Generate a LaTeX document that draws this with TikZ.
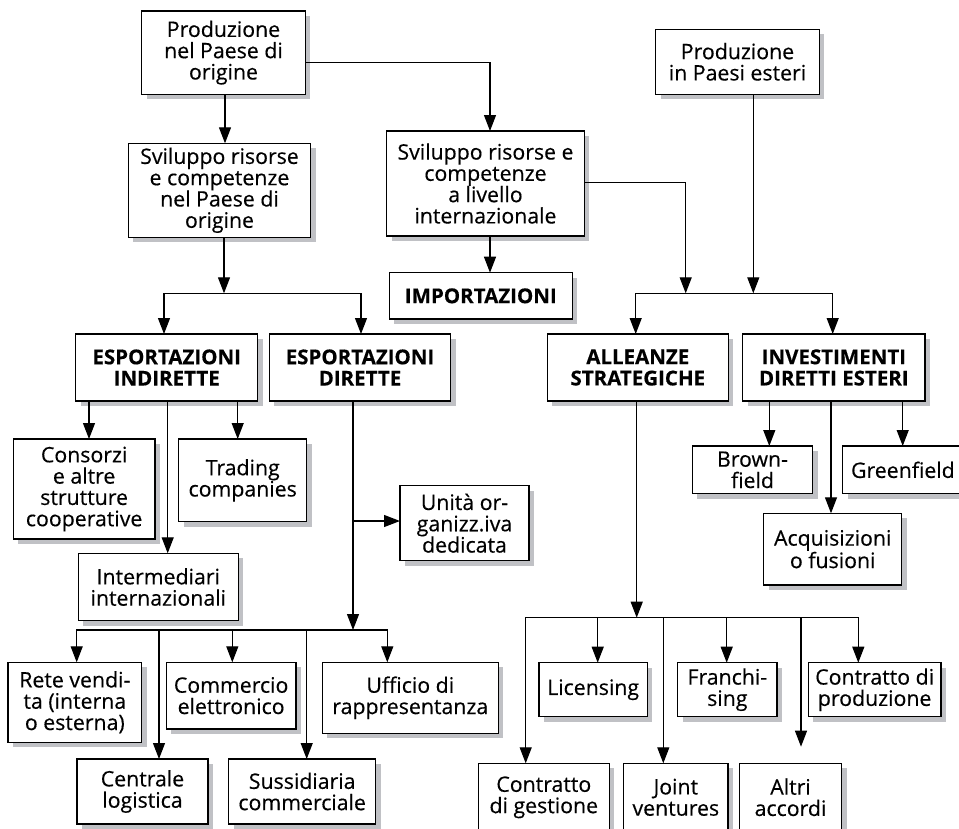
\documentclass[tikz,border=0pt]{standalone}
\usepackage{fontspec}
\setmainfont{Open Sans}[FakeBold=0.35]
\usetikzlibrary{arrows.meta,backgrounds}
\definecolor{shadowgray}{RGB}{192,193,197}
\newcommand\bxfont{\fontsize{21.3}{21.3}\selectfont}
\newcommand\bbfont{\fontsize{20.5}{21.3}\selectfont\bfseries}
\tikzset{
  box/.style={draw=black, line width=1.3pt, fill=white, inner sep=0pt, outer sep=0pt,
    align=center, anchor=north west, font=\bxfont},
  bbox/.style={box, font=\bbfont},
  arr/.style={line width=1.2pt, -{Triangle[length=16pt,width=12pt]}},
  arrtwo/.style={line width=1.2pt, {Triangle[length=16pt,width=12pt]}-{Triangle[length=16pt,width=12pt]}},
  shadowbox/.style={fill=shadowgray},
}
\begin{document}
\begin{tikzpicture}[x=1pt,y=-1pt]
\useasboundingbox (0,0) rectangle (959,828);

% boxes
\node[box, minimum width=163.6pt, minimum height=83.3pt] (p1) at (141.7,11) {Produzione\\nel Paese di\\origine};
\node[box, minimum width=182.4pt, minimum height=94pt] (s1) at (128.3,143.3) {Sviluppo risorse\\e competenze\\nel Paese di\\origine};
\node[box, minimum width=163.6pt, minimum height=65pt] (pe) at (655.7,29.3) {Produzione\\in Paesi esteri};
\node[box, minimum width=197.6pt, minimum height=105pt] (s2) at (386.7,131) {Sviluppo risorse e\\competenze\\a livello\\internazionale};
\node[bbox, minimum width=183pt, minimum height=46.3pt] (imp) at (389.3,272.7) {IMPORTAZIONI};
\node[bbox, minimum width=182pt, minimum height=67pt] (ei) at (75.7,334) {ESPORTAZIONI\\INDIRETTE};
\node[bbox, minimum width=181.4pt, minimum height=67pt] (ed) at (269.3,334) {ESPORTAZIONI\\DIRETTE};
\node[bbox, minimum width=181pt, minimum height=67pt] (al) at (547.3,334) {ALLEANZE\\STRATEGICHE};
\node[bbox, minimum width=182.3pt, minimum height=67pt] (ide) at (742.7,334) {INVESTIMENTI\\DIRETTI ESTERI};
\node[box, minimum width=141.7pt, minimum height=100pt] (cons) at (13.3,439) {Consorzi\\e altre\\strutture\\cooperative};
\node[box, minimum width=128pt, minimum height=82.7pt] (trad) at (178.7,439) {Trading\\companies};
\node[box, minimum width=160pt, minimum height=67.4pt] (inter) at (78.3,553.3) {Intermediari\\internazionali};
\node[box, minimum width=129pt, minimum height=75pt] (uni) at (400,485.7) {Unità or-\\ganizz.iva\\dedicata};
\node[box, minimum width=120.4pt, minimum height=47.7pt] (brown) at (692.3,446) {Brown-\\field};
\node[box, minimum width=120.4pt, minimum height=47.7pt] (green) at (842.7,446) {Greenfield};
\node[box, minimum width=138pt, minimum height=71.7pt] (acq) at (763.7,513.3) {Acquisizioni\\o fusioni};
\node[box, minimum width=133.7pt, minimum height=80pt] (rete) at (8,662.3) {Rete vendi-\\ta (interna\\o esterna)};
\node[box, minimum width=129.7pt, minimum height=66.7pt] (comm) at (166.3,662.3) {Commercio\\elettronico};
\node[box, minimum width=176pt, minimum height=71pt] (uff) at (322.3,662.3) {Ufficio di\\rappresentanza};
\node[box, minimum width=131pt, minimum height=65pt] (centr) at (77,759) {Centrale\\logistica};
\node[box, minimum width=147pt, minimum height=65pt] (suss) at (228.7,759) {Sussidiaria\\commerciale};
\node[box, minimum width=108.3pt, minimum height=54pt] (lic) at (539,662.7) {Licensing};
\node[box, minimum width=99.3pt, minimum height=54pt] (fran) at (677.7,662.7) {Franchi-\\sing};
\node[box, minimum width=132.7pt, minimum height=54pt] (cp) at (808.3,662.7) {Contratto di\\produzione};
\node[box, minimum width=131pt, minimum height=68pt] (cg) at (478.3,763.3) {Contratto\\di gestione};
\node[box, minimum width=104.3pt, minimum height=68pt] (jv) at (623.7,763.3) {Joint\\ventures};
\node[box, minimum width=102.4pt, minimum height=68pt] (altri) at (739.3,763.3) {Altri\\accordi};

% shadows
\begin{scope}[on background layer]
\foreach \n in {p1,s1,pe,s2,imp,ei,ed,al,ide,cons,trad,inter,uni,brown,green,acq,rete,comm,uff,centr,suss,lic,fran,cp,cg,jv,altri}
  \fill[shadowbox] ([xshift=5pt,yshift=-5pt]\n.south west) rectangle ([xshift=5pt,yshift=-5pt]\n.north east);
\end{scope}

% junction coordinates
\coordinate (j1) at (224,293.3);
\coordinate (j1l) at (164,293.3);
\coordinate (j1r) at (361,293.3);
\coordinate (j2) at (685.7,293.3);
\coordinate (j2b) at (753.3,293.3);
\coordinate (j2l) at (635.7,293.3);
\coordinate (j2r) at (832.7,293.3);
\coordinate (j3) at (353,630);
\coordinate (j3u) at (353,521);
\coordinate (j3l) at (76.7,630);
\coordinate (j3r) at (387.3,630);
\coordinate (j4) at (636.7,617.7);
\coordinate (j4l) at (525.7,617.7);
\coordinate (j4r) at (858.3,617.7);

% top
\draw[arr] (p1.south -| 225,0) -- (s1.north -| 225,0);
\draw[arr] (p1.east |- 0,62.3) -| (s2.north -| 490,0);
\draw[arr] (s1.south -| j1) -- (j1);
\draw[arrtwo] (ei.north -| j1l) |- (j1r) -- (ed.north -| j1r);
\draw[arr] (s2.south -| 490,0) -- (imp.north -| 490,0);
\draw[arr] (s2.east |- 0,182.7) -| (j2);
\draw[arr] (pe.south -| j2b) -- (j2b);
\draw[arrtwo] (al.north -| j2l) |- (j2r) -- (ide.north -| j2r);

% esportazioni indirette
\draw[arr] (ei.south -| 89,0) -- (cons.north -| 89,0);
\draw[arr] (ei.south -| 167.7,0) -- (inter.north -| 167.7,0);
\draw[arr] (ei.south -| 237.7,0) -- (trad.north -| 237.7,0);

% esportazioni dirette
\draw[arr] (ed.south -| j3) -- (j3);
\draw[arr] (j3u) -- (uni.west |- j3u);
\draw[arrtwo] (rete.north -| j3l) |- (j3r) -- (uff.north -| j3r);
\draw[arr] (j3l -| 159,0) -- (centr.north -| 159,0);
\draw[arr] (j3l -| 232.3,0) -- (comm.north -| 232.3,0);
\draw[arr] (j3l -| 306.7,0) -- (suss.north -| 306.7,0);

% alleanze
\draw[arr] (al.south -| j4) -- (j4);
\draw[arrtwo] (cg.north -| j4l) |- (j4r) -- (cp.north -| j4r);
\draw[arr] (j4 -| 597.7,0) -- (lic.north -| 597.7,0);
\draw[arr] (j4 -| 663.3,0) -- (jv.north -| 663.3,0);
\draw[arr] (j4 -| 726.7,0) -- (fran.north -| 726.7,0);
\draw[arr, shorten >=16.6pt] (j4 -| 801,0) -- (altri.north -| 801,0);

% investimenti
\draw[arr] (ide.south -| 769.3,0) -- (brown.north -| 769.3,0);
\draw[arr] (ide.south -| 831,0) -- (acq.north -| 831,0);
\draw[arr] (ide.south -| 902.7,0) -- (green.north -| 902.7,0);
\end{tikzpicture}
\end{document}
